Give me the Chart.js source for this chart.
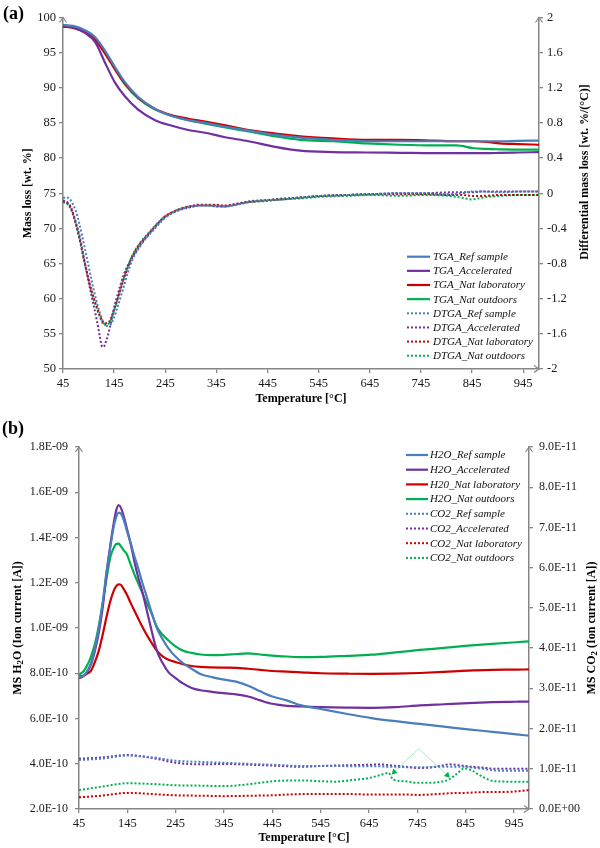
<!DOCTYPE html>
<html>
<head>
<meta charset="utf-8">
<script src="https://cdn.jsdelivr.net/npm/chart.js@4.4.1/dist/chart.umd.min.js"></script>
<style>
  html, body { margin: 0; padding: 0; background: #fff; }
  #wrap { position: relative; width: 600px; height: 848px; }
  #chartA { position: absolute; left: 0; top: 0; width: 600px; height: 405px; }
  #chartB { position: absolute; left: 0; top: 405px; width: 600px; height: 443px; }
</style>
</head>
<body>
<div id="wrap">
  <canvas id="chartA" width="600" height="405"></canvas>
  <canvas id="chartB" width="600" height="443"></canvas>
</div>
<script>
// ---- shared temperature axis ----
const tempTicks = [45, 145, 245, 345, 445, 545, 645, 745, 845, 945];
const tempMin = 45, tempMax = 976;

// ---- panel (a): TGA (left, wt. %) ----
const massTickLabels = ['50', '55', '60', '65', '70', '75', '80', '85', '90', '95', '100'];
const dtgaTickLabels = ['-2', '-1.6', '-1.2', '-0.8', '-0.4', '0', '0.4', '0.8', '1.2', '1.6', '2'];

const tgaTemp = [45, 65, 88, 108, 127, 147, 166, 192, 225, 258, 290, 323, 360, 408, 460, 509, 573, 639, 704, 769, 815, 848, 874, 899, 935, 976];
const tgaRef = [98.9, 98.8, 98.2, 97.2, 95.3, 92.9, 90.8, 88.7, 87.0, 86.0, 85.4, 85.0, 84.5, 83.9, 83.3, 82.9, 82.6, 82.4, 82.4, 82.4, 82.4, 82.4, 82.4, 82.4, 82.45, 82.5];
const tgaAcc = [98.9, 98.6, 97.8, 96.5, 93.6, 90.7, 88.8, 86.9, 85.4, 84.6, 84.0, 83.6, 83.0, 82.4, 81.6, 81.05, 80.85, 80.8, 80.75, 80.7, 80.7, 80.7, 80.7, 80.75, 80.8, 80.85];
const tgaLab = [98.7, 98.5, 97.9, 96.8, 94.9, 92.6, 90.6, 88.6, 87.0, 86.1, 85.6, 85.2, 84.7, 84.0, 83.5, 83.1, 82.8, 82.6, 82.6, 82.5, 82.4, 82.4, 82.3, 82.1, 82.0, 81.9];
const tgaOut = [98.9, 98.7, 98.0, 96.9, 95.0, 92.6, 90.5, 88.5, 86.9, 86.0, 85.4, 84.9, 84.4, 83.8, 83.1, 82.6, 82.4, 82.1, 81.9, 81.8, 81.8, 81.4, 81.3, 81.25, 81.2, 81.2];

// DTGA (right, wt. %/°C)
const dtgaTemp = [45, 55, 62, 70, 78, 86, 94, 102, 111, 117, 121, 124, 130, 137, 143, 153, 163, 172, 182, 195, 208, 225, 241, 257, 273, 292, 312, 330, 345, 360, 377, 393, 410, 440, 474, 507, 550, 600, 650, 700, 750, 800, 825, 845, 865, 900, 940, 976];
const dtgaRef = [-0.05, -0.05, -0.10, -0.20, -0.37, -0.58, -0.80, -1.02, -1.24, -1.36, -1.43, -1.47, -1.51, -1.50, -1.44, -1.27, -1.08, -0.90, -0.74, -0.61, -0.51, -0.40, -0.30, -0.23, -0.19, -0.16, -0.14, -0.14, -0.15, -0.15, -0.14, -0.12, -0.10, -0.08, -0.07, -0.05, -0.03, -0.02, -0.01, 0.0, 0.0, -0.01, 0.0, 0.02, 0.02, 0.01, 0.02, 0.02];
const dtgaAcc = [-0.08, -0.11, -0.18, -0.33, -0.50, -0.74, -0.98, -1.20, -1.44, -1.63, -1.74, -1.75, -1.67, -1.52, -1.35, -1.13, -0.94, -0.82, -0.72, -0.60, -0.50, -0.38, -0.29, -0.23, -0.19, -0.16, -0.14, -0.14, -0.15, -0.15, -0.13, -0.11, -0.09, -0.08, -0.06, -0.05, -0.03, -0.02, -0.01, 0.0, 0.0, 0.01, 0.01, 0.01, 0.02, 0.02, 0.02, 0.02];
const dtgaLab = [-0.09, -0.12, -0.19, -0.34, -0.53, -0.75, -0.95, -1.13, -1.29, -1.39, -1.44, -1.47, -1.48, -1.45, -1.36, -1.18, -0.99, -0.84, -0.70, -0.58, -0.49, -0.38, -0.28, -0.22, -0.18, -0.15, -0.13, -0.13, -0.13, -0.14, -0.13, -0.11, -0.10, -0.08, -0.07, -0.05, -0.03, -0.02, -0.01, -0.01, -0.01, -0.02, -0.02, -0.03, -0.03, -0.02, -0.02, -0.02];
const dtgaOut = [-0.10, -0.13, -0.20, -0.35, -0.54, -0.76, -0.96, -1.15, -1.31, -1.41, -1.46, -1.49, -1.50, -1.46, -1.37, -1.18, -0.98, -0.83, -0.69, -0.57, -0.48, -0.37, -0.28, -0.22, -0.18, -0.15, -0.14, -0.14, -0.14, -0.15, -0.14, -0.12, -0.10, -0.09, -0.07, -0.06, -0.04, -0.03, -0.02, -0.03, -0.02, -0.03, -0.05, -0.07, -0.05, -0.03, -0.02, -0.02];

// ---- panel (b): MS H2O (left, in 1E-10 A) and CO2 (right, in 1E-11 A) ----
const h2oTickVals = [2, 4, 6, 8, 10, 12, 14, 16, 18];
const h2oTickLabels = ['2.0E-10', '4.0E-10', '6.0E-10', '8.0E-10', '1.0E-09', '1.2E-09', '1.4E-09', '1.6E-09', '1.8E-09'];
const co2TickVals = [0, 1, 2, 3, 4, 5, 6, 7, 8, 9];
const co2TickLabels = ['0.0E+00', '1.0E-11', '2.0E-11', '3.0E-11', '4.0E-11', '5.0E-11', '6.0E-11', '7.0E-11', '8.0E-11', '9.0E-11'];

const h2oTemp = [45, 55, 62, 70, 78, 86, 94, 102, 110, 117, 122, 127, 132, 138, 144, 152, 160, 168, 176, 185, 195, 206, 218, 230, 244, 260, 278, 296, 320, 345, 370, 395, 420, 445, 475, 505, 545, 600, 650, 700, 750, 800, 850, 900, 950, 976];
const h2oRef = [7.83, 7.9, 8.1, 8.45, 9.1, 10.0, 11.1, 12.5, 13.6, 14.5, 14.9, 15.1, 15.05, 14.75, 14.3, 13.75, 13.15, 12.6, 12.0, 11.4, 10.7, 10.0, 9.5, 9.1, 8.75, 8.45, 8.2, 7.97, 7.83, 7.72, 7.63, 7.45, 7.2, 6.97, 6.8, 6.58, 6.42, 6.2, 6.02, 5.88, 5.76, 5.64, 5.52, 5.41, 5.3, 5.24];
const h2oAcc = [7.78, 7.88, 8.05, 8.4, 9.0, 9.8, 10.9, 12.4, 13.7, 14.65, 15.2, 15.43, 15.3, 14.9, 14.4, 13.7, 12.9, 12.2, 11.6, 10.8, 9.9, 9.0, 8.45, 8.05, 7.8, 7.55, 7.35, 7.25, 7.18, 7.12, 7.07, 6.97, 6.8, 6.65, 6.56, 6.53, 6.5, 6.48, 6.47, 6.5, 6.58, 6.63, 6.68, 6.72, 6.74, 6.75];
const h2oLab = [7.85, 7.9, 7.98, 8.12, 8.5, 9.0, 9.7, 10.5, 11.2, 11.65, 11.85, 11.93, 11.9, 11.7, 11.48, 11.1, 10.75, 10.4, 10.05, 9.7, 9.35, 9.0, 8.75, 8.6, 8.5, 8.4, 8.32, 8.28, 8.26, 8.25, 8.24, 8.2, 8.15, 8.1, 8.07, 8.04, 8.0, 7.98, 7.97, 7.98, 8.01, 8.06, 8.12, 8.15, 8.16, 8.17];
const h2oOut = [7.93, 8.1, 8.35, 8.75, 9.3, 10.1, 11.1, 12.2, 13.15, 13.55, 13.72, 13.73, 13.6, 13.42, 13.26, 12.8, 12.35, 11.95, 11.55, 11.1, 10.65, 10.05, 9.7, 9.45, 9.2, 9.0, 8.9, 8.83, 8.8, 8.81, 8.85, 8.88, 8.83, 8.78, 8.74, 8.71, 8.72, 8.77, 8.82, 8.92, 9.03, 9.12, 9.22, 9.3, 9.37, 9.41];

const co2Temp = [45, 90, 145, 200, 245, 300, 345, 400, 445, 505, 545, 575, 610, 645, 670, 685, 695, 720, 745, 770, 795, 810, 825, 843, 860, 880, 905, 940, 976];
const co2Ref = [1.22, 1.25, 1.33, 1.28, 1.20, 1.17, 1.15, 1.12, 1.10, 1.07, 1.07, 1.07, 1.06, 1.06, 1.06, 1.05, 1.05, 1.04, 1.04, 1.04, 1.05, 1.05, 1.05, 1.05, 1.03, 1.00, 0.96, 0.95, 0.95];
const co2Acc = [1.25, 1.28, 1.34, 1.26, 1.15, 1.11, 1.12, 1.10, 1.08, 1.05, 1.07, 1.08, 1.09, 1.10, 1.11, 1.09, 1.08, 1.05, 1.02, 1.03, 1.08, 1.11, 1.10, 1.07, 1.05, 1.03, 1.00, 1.00, 1.00];
const co2Lab = [0.29, 0.33, 0.40, 0.37, 0.34, 0.33, 0.32, 0.33, 0.34, 0.37, 0.37, 0.37, 0.37, 0.36, 0.36, 0.36, 0.36, 0.36, 0.35, 0.36, 0.38, 0.39, 0.40, 0.40, 0.41, 0.42, 0.42, 0.43, 0.47];
const co2Out = [0.47, 0.55, 0.64, 0.62, 0.59, 0.58, 0.57, 0.62, 0.69, 0.71, 0.69, 0.68, 0.72, 0.77, 0.85, 0.90, 0.73, 0.69, 0.65, 0.65, 0.68, 0.73, 0.86, 1.01, 0.94, 0.80, 0.69, 0.68, 0.68];

// pointer lines drawn on the CO2 outdoor curve
const calloutTemp = [697, 748, 807];
const calloutVal = [0.92, 1.50, 0.84];

// ---- styling ----
const BLUE = '#4A7EBB', PURPLE = '#7030A0', RED = '#CC0000', GREEN = '#00B050';
const AXIS_COLOR = '#868686';
const SERIF = '"Liberation Serif", "Times New Roman", serif';
const TITLE_FONT = 'bold 12px ' + SERIF;
const SUB_FONT = 'bold 9px ' + SERIF;

const pts = (xs, ys) => xs.map((x, i) => ({ x: x, y: ys[i] }));

function solid(label, color, xs, ys, axis) {
	return { label, data: pts(xs, ys), borderColor: color, backgroundColor: color, borderWidth: 2.2,
		pointRadius: 0, tension: 0.4, cubicInterpolationMode: 'monotone', yAxisID: axis };
}
function dotted(label, color, xs, ys, axis) {
	return { label, data: pts(xs, ys), borderColor: color, backgroundColor: color, borderWidth: 2,
		borderDash: [2, 2], pointRadius: 0, tension: 0.4, cubicInterpolationMode: 'monotone', yAxisID: axis };
}

function fixedTicks(values) {
	return scale => { scale.ticks = values.map(v => ({ value: v })); };
}

function axisBase() {
	return {
		grid: { drawOnChartArea: false, drawTicks: true, tickLength: 4, color: AXIS_COLOR, lineWidth: 1.3 },
		border: { display: true, color: AXIS_COLOR, width: 1.5 },
		ticks: { color: '#1a1a1a', font: { family: SERIF, size: 12.5 }, autoSkip: false, maxRotation: 0 }
	};
}

function drawRich(ctx, segs, x, y, rot) {
	ctx.save();
	ctx.translate(x, y);
	ctx.rotate(rot);
	ctx.textBaseline = 'middle';
	ctx.textAlign = 'left';
	const widths = segs.map(s => { ctx.font = s.sub ? SUB_FONT : TITLE_FONT; return ctx.measureText(s.t).width; });
	let cx = -widths.reduce((p, c) => p + c, 0) / 2;
	segs.forEach((s, i) => {
		ctx.font = s.sub ? SUB_FONT : TITLE_FONT;
		ctx.fillText(s.t, cx, s.sub ? 3 : 0);
		cx += widths[i];
	});
	ctx.restore();
}

function chevron(ctx, x, y, dir) {
	ctx.beginPath();
	if (dir === 'up') {
		ctx.moveTo(x - 3.5, y + 5); ctx.lineTo(x, y); ctx.lineTo(x + 3.5, y + 5);
	} else {
		ctx.moveTo(x - 5, y - 3.5); ctx.lineTo(x, y); ctx.lineTo(x - 5, y + 3.5);
	}
	ctx.stroke();
}

// axis arrows, panel tag, axis titles and the in-plot legend
const decor = {
	id: 'decor',
	afterDraw(chart, args, opts) {
		const ctx = chart.ctx;
		const a = chart.chartArea;
		ctx.save();
		ctx.strokeStyle = AXIS_COLOR;
		ctx.lineWidth = 1.2;
		chevron(ctx, a.left, a.top, 'up');
		chevron(ctx, a.right, a.top, 'up');
		chevron(ctx, a.right, a.bottom, 'right');

		ctx.fillStyle = '#000';
		ctx.font = 'bold 18px ' + SERIF;
		ctx.textBaseline = 'alphabetic';
		ctx.textAlign = 'left';
		ctx.fillText(opts.tag, opts.tagX, opts.tagY);

		const midY = (a.top + a.bottom) / 2;
		drawRich(ctx, opts.leftTitle, opts.leftTitleX, midY, -Math.PI / 2);
		drawRich(ctx, opts.rightTitle, opts.rightTitleX, opts.rightTitleY || midY, -Math.PI / 2);
		drawRich(ctx, opts.xTitle, (a.left + a.right) / 2, opts.xTitleY, 0);

		const lg = opts.legend;
		chart.data.datasets.forEach((ds, i) => {
			if (ds.noLegend) return;
			const y = lg.y + i * lg.step;
			ctx.save();
			ctx.strokeStyle = ds.borderColor;
			ctx.lineWidth = ds.borderWidth;
			ctx.setLineDash(ds.borderDash || []);
			ctx.beginPath();
			ctx.moveTo(lg.x0, y);
			ctx.lineTo(lg.x1, y);
			ctx.stroke();
			ctx.restore();
			ctx.fillStyle = '#111';
			ctx.font = 'italic 11px ' + SERIF;
			ctx.textBaseline = 'middle';
			ctx.fillText(ds.label, lg.tx, y + 0.5);
		});
		ctx.restore();
	}
};

function buildOptions(cfg) {
	const x = axisBase();
	Object.assign(x, { type: 'linear', position: 'bottom', min: tempMin, max: tempMax,
		afterBuildTicks: fixedTicks(tempTicks), afterFit: s => { s.height = cfg.xHeight; } });
	x.ticks.padding = 3;
	x.ticks.callback = v => String(v);

	const y = axisBase();
	Object.assign(y, { type: 'linear', position: 'left', min: cfg.leftVals[0], max: cfg.leftVals[cfg.leftVals.length - 1],
		afterBuildTicks: fixedTicks(cfg.leftVals), afterFit: s => { s.width = cfg.leftWidth; } });
	y.ticks.padding = cfg.leftPad;
	y.ticks.font.size = cfg.tickSize;
	y.ticks.callback = (v, i) => cfg.leftLabels[i];

	const y1 = axisBase();
	Object.assign(y1, { type: 'linear', position: 'right', min: cfg.rightVals[0], max: cfg.rightVals[cfg.rightVals.length - 1],
		afterBuildTicks: fixedTicks(cfg.rightVals), afterFit: s => { s.width = cfg.rightWidth; } });
	y1.ticks.padding = cfg.rightPad;
	y1.ticks.font.size = cfg.tickSize;
	y1.ticks.callback = (v, i) => cfg.rightLabels[i];

	return {
		responsive: false,
		animation: false,
		devicePixelRatio: 1,
		layout: { padding: { top: cfg.top, left: 0, right: 0, bottom: 0 } },
		scales: { x, y, y1 },
		plugins: { legend: { display: false }, tooltip: { enabled: false }, decor: cfg.decor }
	};
}

// ---- chart (a) ----
new Chart(document.getElementById('chartA'), {
	type: 'line',
	data: {
		datasets: [
			solid('TGA_Ref sample', BLUE, tgaTemp, tgaRef, 'y'),
			solid('TGA_Accelerated', PURPLE, tgaTemp, tgaAcc, 'y'),
			solid('TGA_Nat laboratory', RED, tgaTemp, tgaLab, 'y'),
			solid('TGA_Nat outdoors', GREEN, tgaTemp, tgaOut, 'y'),
			dotted('DTGA_Ref sample', BLUE, dtgaTemp, dtgaRef, 'y1'),
			dotted('DTGA_Accelerated', PURPLE, dtgaTemp, dtgaAcc, 'y1'),
			dotted('DTGA_Nat laboratory', RED, dtgaTemp, dtgaLab, 'y1'),
			dotted('DTGA_Nat outdoors', GREEN, dtgaTemp, dtgaOut, 'y1')
		]
	},
	options: buildOptions({
		top: 17.5, xHeight: 36, leftWidth: 63, rightWidth: 61, leftPad: 3, rightPad: 4, tickSize: 12.5,
		leftVals: massTickLabels.map(Number), leftLabels: massTickLabels,
		rightVals: dtgaTickLabels.map(Number), rightLabels: dtgaTickLabels,
		decor: {
			tag: '(a)', tagX: 3, tagY: 19,
			leftTitle: [{ t: 'Mass loss [wt. %]' }], leftTitleX: 28,
			rightTitle: [{ t: 'Differential mass loss [wt. %/(\u00B0C)]' }], rightTitleX: 585, rightTitleY: 172,
			xTitle: [{ t: 'Temperature [\u00B0C]' }], xTitleY: 399,
			legend: { x0: 407, x1: 430, tx: 433, y: 256.7, step: 14.15 }
		}
	}),
	plugins: [decor]
});

// ---- chart (b) ----
const callout = {
	label: '', noLegend: true, data: pts(calloutTemp, calloutVal), yAxisID: 'y1',
	borderColor: '#A8E6BF', borderWidth: 1, tension: 0,
	pointStyle: 'triangle', pointRadius: [3.5, 0, 3.5], pointRotation: [225, 0, 135],
	pointBackgroundColor: GREEN, pointBorderWidth: 0
};

new Chart(document.getElementById('chartB'), {
	type: 'line',
	data: {
		datasets: [
			solid('H2O_Ref sample', BLUE, h2oTemp, h2oRef, 'y'),
			solid('H2O_Accelerated', PURPLE, h2oTemp, h2oAcc, 'y'),
			solid('H20_Nat laboratory', RED, h2oTemp, h2oLab, 'y'),
			solid('H2O_Nat outdoors', GREEN, h2oTemp, h2oOut, 'y'),
			dotted('CO2_Ref sample', BLUE, co2Temp, co2Ref, 'y1'),
			dotted('CO2_Accelerated', PURPLE, co2Temp, co2Acc, 'y1'),
			dotted('CO2_Nat laboratory', RED, co2Temp, co2Lab, 'y1'),
			dotted('CO2_Nat outdoors', GREEN, co2Temp, co2Out, 'y1'),
			callout
		]
	},
	options: buildOptions({
		top: 42, xHeight: 39, leftWidth: 79, rightWidth: 71, leftPad: 7, rightPad: 6, tickSize: 12,
		leftVals: h2oTickVals, leftLabels: h2oTickLabels,
		rightVals: co2TickVals, rightLabels: co2TickLabels,
		decor: {
			tag: '(b)', tagX: 2, tagY: 28.5,
			leftTitle: [{ t: 'MS H' }, { t: '2', sub: true }, { t: 'O (Ion current [A])' }], leftTitleX: 18,
			rightTitle: [{ t: 'MS CO' }, { t: '2', sub: true }, { t: ' (Ion current [A])' }], rightTitleX: 592,
			xTitle: [{ t: 'Temperature [\u00B0C]' }], xTitleY: 433,
			legend: { x0: 406, x1: 428, tx: 430, y: 50, step: 14.7 }
		}
	}),
	plugins: [decor]
});
</script>
</body>
</html>
